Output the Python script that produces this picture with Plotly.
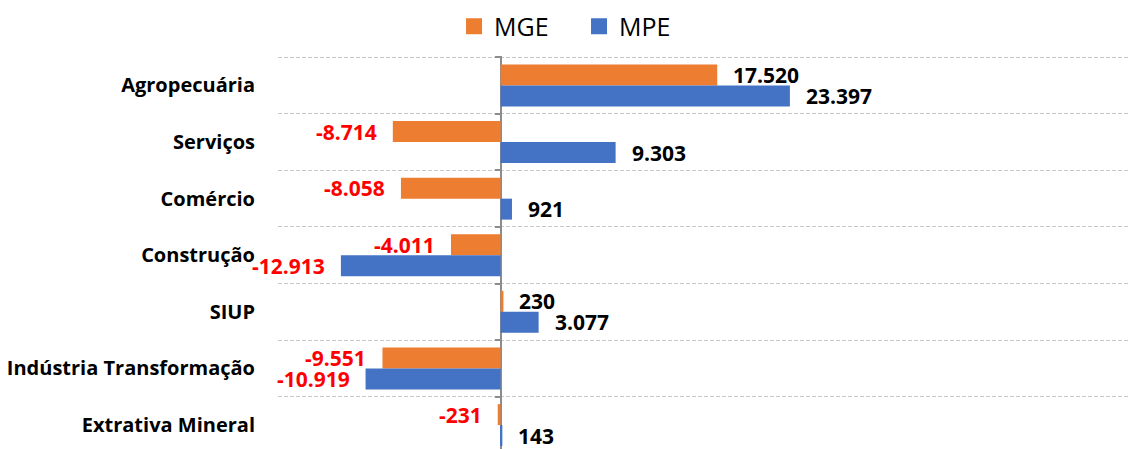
import plotly.graph_objects as go

categories = ["Agropecuária", "Serviços", "Comércio", "Construção", "SIUP",
              "Indústria Transformação", "Extrativa Mineral"]
mge = [17520, -8714, -8058, -4011, 230, -9551, -231]
mpe = [23397, 9303, 921, -12913, 3077, -10919, 143]
series_names = ["MGE", "MPE"]
colors = ["#ED7D31", "#4472C4"]

W, H = 1130, 449
PL = 278
band_px = 56.67
eps = 0.02
PT = 56.7 - eps * band_px
n = len(categories)
y_top = -0.5 - eps
y_bottom = y_top + (H - PT) / band_px
yrange = [y_bottom, y_top]
xrange = [-18000, 50900]
bargap = 0.26
FONT = "Open Sans"


def fmt(v):
    s = f"{abs(v):,}".replace(",", ".")
    return ("-" if v < 0 else "") + s


fig = go.Figure()
for name, vals, col in zip(series_names, [mge, mpe], colors):
    fig.add_trace(go.Bar(
        y=categories, x=vals, name=name, orientation="h",
        marker=dict(color=col, line=dict(width=0)),
        showlegend=False, hoverinfo="x+y",
    ))
    # legend proxy
    fig.add_trace(go.Scatter(
        x=[None], y=[None], mode="markers", name=name, yaxis="y2",
        marker=dict(symbol="square", size=16, color=col),
        showlegend=True, hoverinfo="skip",
    ))

half = (1 - bargap) / 4 * band_px
annotations = []
for vals, ysh in [(mge, half), (mpe, -half)]:
    for cat, v in zip(categories, vals):
        pos = v >= 0
        annotations.append(dict(
            x=v, y=cat, xref="x", yref="y", text=fmt(v), showarrow=False,
            xanchor="left" if pos else "right", yanchor="middle",
            xshift=14 if pos else -14, yshift=ysh,
            font=dict(family=FONT, size=21, weight="bold",
                      color="#000000" if pos else "#FF0000"),
        ))

zero_frac = (0 - xrange[0]) / (xrange[1] - xrange[0])

fig.update_layout(
    width=W, height=H,
    margin=dict(l=PL, r=0, t=PT, b=0, pad=0, autoexpand=False),
    plot_bgcolor="white", paper_bgcolor="white",
    barmode="group", bargap=bargap, bargroupgap=0,
    annotations=annotations,
    xaxis=dict(range=xrange, showticklabels=False, showgrid=False,
               zeroline=True, zerolinecolor="#8C8C8C", zerolinewidth=2,
               ticks="", fixedrange=True, automargin=False),
    yaxis=dict(type="category", categoryorder="array", categoryarray=categories,
               range=yrange, tickson="boundaries", showgrid=True,
               gridcolor="#C8C8C8", gridwidth=1, griddash="4px,2px",
               ticks="", ticklabelstandoff=22, zeroline=False, automargin=False,
               fixedrange=True,
               tickfont=dict(family=FONT, size=20, weight="bold", color="#000000")),
    yaxis2=dict(overlaying="y", anchor="free", position=zero_frac, side="left",
                range=yrange, tickmode="array",
                tickvals=[i - 0.5 for i in range(n + 1)],
                ticks="outside", ticklen=6, tickwidth=2, tickcolor="#8C8C8C",
                showticklabels=False, showgrid=False, zeroline=False,
                showline=False, fixedrange=True, automargin=False),
    legend=dict(orientation="h", xref="container", yref="container",
                x=0.4018, xanchor="left", y=1 - 26.5 / H, yanchor="middle",
                entrywidth=80, entrywidthmode="pixels",
                font=dict(family=FONT, size=25, color="#000000"),
                bgcolor="rgba(0,0,0,0)", itemclick=False),
    showlegend=True,
)

fig.write_html("out.html",
               config={"displayModeBar": False},
               post_script="document.body.style.margin='0';"
                           "document.body.style.overflow='hidden';")
